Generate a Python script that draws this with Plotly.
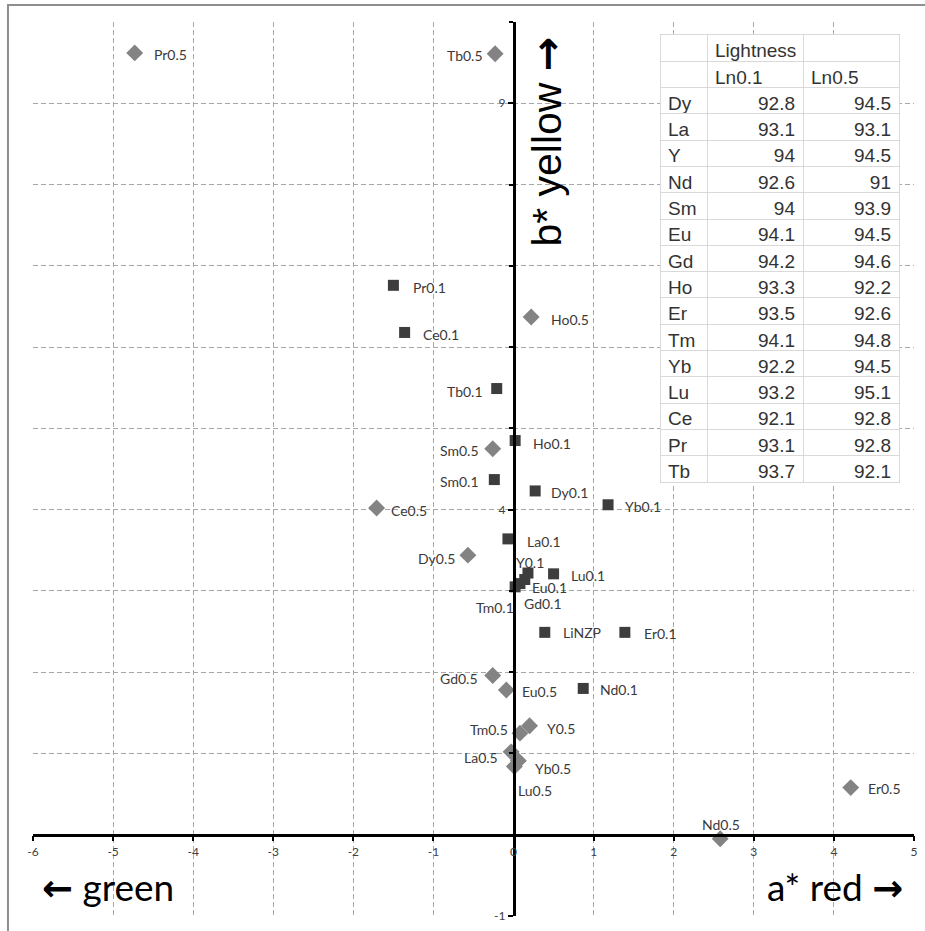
import plotly.graph_objects as go

# ---- data: CIE a*/b* for Ln0.1 (squares) and Ln0.5 (diamonds) ----
ln01_labels = ["Pr0.1", "Ce0.1", "Tb0.1", "Ho0.1", "Sm0.1", "Dy0.1", "Yb0.1", "La0.1",
               "Y0.1", "Lu0.1", "Eu0.1", "Gd0.1", "Tm0.1", "LiNZP", "Er0.1", "Nd0.1"]
ln01_a = [-1.50, -1.36, -0.21, 0.02, -0.24, 0.27, 1.18, -0.07,
          0.18, 0.50, 0.14, 0.08, 0.02, 0.39, 1.39, 0.87]
ln01_b = [6.76, 6.18, 5.49, 4.85, 4.37, 4.23, 4.06, 3.64,
          3.22, 3.21, 3.14, 3.09, 3.05, 2.49, 2.49, 1.80]

ln05_labels = ["Pr0.5", "Tb0.5", "Ho0.5", "Sm0.5", "Ce0.5", "Dy0.5", "Gd0.5", "Eu0.5",
               "Y0.5", "Tm0.5", "La0.5", "Yb0.5", "Lu0.5", "Nd0.5", "Er0.5"]
ln05_a = [-4.73, -0.23, 0.22, -0.26, -1.71, -0.57, -0.26, -0.09,
          0.20, 0.08, -0.03, 0.06, 0.01, 2.58, 4.21]
ln05_b = [9.62, 9.61, 6.37, 4.75, 4.02, 3.44, 1.96, 1.78,
          1.34, 1.25, 1.02, 0.91, 0.84, -0.05, 0.58]

# lightness table
elements = ["Dy", "La", "Y", "Nd", "Sm", "Eu", "Gd", "Ho", "Er", "Tm", "Yb", "Lu", "Ce", "Pr", "Tb"]
lightness_01 = [92.8, 93.1, 94, 92.6, 94, 94.1, 94.2, 93.3, 93.5, 94.1, 92.2, 93.2, 92.1, 93.1, 93.7]
lightness_05 = [94.5, 93.1, 94.5, 91, 93.9, 94.5, 94.6, 92.2, 92.6, 94.8, 94.5, 95.1, 92.8, 92.8, 92.1]

x_ticks = [-6, -5, -4, -3, -2, -1, 0, 1, 2, 3, 4, 5]
y_ticks = [-1, 4, 9]

# ---- label placement (style): (anchor, x shift px, y shift px) ----
place01 = [("left", 18, -2), ("left", 16, -2), ("right", -12, -3), ("left", 16, -3),
           ("right", -13, -2), ("left", 14, -2), ("left", 15, -2), ("left", 17, -3),
           ("center", 2, 11), ("left", 15, -2), ("left", 5, -8), ("left", 2, -20),
           ("right", 1, -21), ("left", 16, 0), ("left", 17, -1), ("left", 15, -1)]
place05 = [("left", 17, -2), ("right", -10, -2), ("left", 18, -2), ("right", -12, -2),
           ("left", 12, -2), ("right", -11, -3), ("right", -13, -3), ("left", 14, -1),
           ("left", 15, -3), ("right", -10, 4), ("right", -11, -6), ("left", 15, -8),
           ("left", 2, -24), ("center", 1, 14), ("left", 15, -1)]

LBL_FONT = dict(family="Lato, Open Sans, sans-serif", size=14, color="#3a3a3a")
GRID = "#a8a8a8"
ARROW = "<span style=\"font-family:'DejaVu Sans';font-weight:bold\">{}</span>"

fig = go.Figure()
fig.add_trace(go.Scatter(
    x=ln01_a, y=ln01_b, mode="markers", cliponaxis=False,
    marker=dict(symbol="square", size=11, color="#3d3d3d"), showlegend=False))
fig.add_trace(go.Scatter(
    x=ln05_a, y=ln05_b, mode="markers", cliponaxis=False,
    marker=dict(symbol="diamond", size=13, color="#838383"), showlegend=False))

annotations = []
for xs, ys, labs, places in ((ln01_a, ln01_b, ln01_labels, place01),
                             (ln05_a, ln05_b, ln05_labels, place05)):
    for xv, yv, lab, (anc, dx, dy) in zip(xs, ys, labs, places):
        annotations.append(dict(x=xv, y=yv, xref="x", yref="y", text=lab, showarrow=False,
                                xanchor=anc, yanchor="middle", xshift=dx, yshift=dy,
                                font=LBL_FONT))

fig.add_trace(go.Table(
    domain=dict(x=[0.7117, 0.983], y=[0.483, 0.9855]),
    columnwidth=[47, 96, 96],
    header=dict(values=[["", ""], ["Lightness", "Ln0.1"], ["", "Ln0.5"]],
                align=["left", "left", "left"], height=26.3,
                fill_color="white", line=dict(color="#d9d9d9", width=1),
                font=dict(family="Liberation Sans, Arial", size=19, color="#333333")),
    cells=dict(values=[elements, lightness_01, lightness_05],
               align=["left", "right", "right"], height=26.3,
               fill_color="white", line=dict(color="#d9d9d9", width=1),
               font=dict(family="Liberation Sans, Arial", size=19, color="#333333"))))

annotations += [
    dict(text=ARROW.format("←") + " green", xref="paper", yref="paper", x=0.008, y=0.0324,
         xanchor="left", yanchor="middle", showarrow=False,
         font=dict(family="Lato, sans-serif", size=37, color="black")),
    dict(text="a* red " + ARROW.format("→"), xref="paper", yref="paper", x=0.9898, y=0.0324,
         xanchor="right", yanchor="middle", showarrow=False,
         font=dict(family="Lato, sans-serif", size=37, color="black")),
    dict(text="b* yellow " + ARROW.format("→"), xref="paper", yref="paper", x=0.583, y=0.8658,
         xanchor="center", yanchor="middle", showarrow=False, textangle=-90,
         font=dict(family="Liberation Sans, Arial", size=41, color="black")),
]

fig.update_layout(
    width=925, height=931,
    margin=dict(l=33, r=11, t=22, b=15, autoexpand=False),
    paper_bgcolor="white", plot_bgcolor="white",
    xaxis=dict(range=[-6, 5], domain=[0, 1], anchor="free", position=1 / 11,
               tickmode="array", tickvals=x_ticks, ticktext=[str(v) for v in x_ticks],
               ticks="outside", ticklen=5, tickcolor="black", tickwidth=1.5,
               showline=True, linecolor="black", linewidth=2.5,
               showgrid=True, gridcolor=GRID, griddash="5px,3px", gridwidth=1,
               zeroline=False,
               tickfont=dict(family="Lato, sans-serif", size=12, color="#404040")),
    yaxis=dict(range=[-1, 10], domain=[0, 1], anchor="free", position=6 / 11,
               tickmode="array", tickvals=y_ticks, ticktext=[str(v) for v in y_ticks],
               ticks="outside", ticklen=5, tickcolor="black", tickwidth=1.5,
               showline=True, linecolor="black", linewidth=2.5,
               showgrid=True, gridcolor=GRID, griddash="5px,3px", gridwidth=1,
               zeroline=False,
               minor=dict(dtick=1, tick0=0, ticks="outside", ticklen=4, tickcolor="black",
                          showgrid=True, gridcolor=GRID, griddash="5px,3px", gridwidth=1),
               tickfont=dict(family="Lato, sans-serif", size=12, color="#404040")),
    shapes=[dict(type="rect", xref="paper", yref="paper",
                 x0=-0.0284, x1=1.2, y0=-0.2, y1=1.019,
                 line=dict(color="#8f8f8f", width=2), fillcolor="rgba(0,0,0,0)")],
    annotations=annotations,
)

fig.write_html("out.html", config={"displayModeBar": False},
               post_script="document.body.style.margin='0px';")
